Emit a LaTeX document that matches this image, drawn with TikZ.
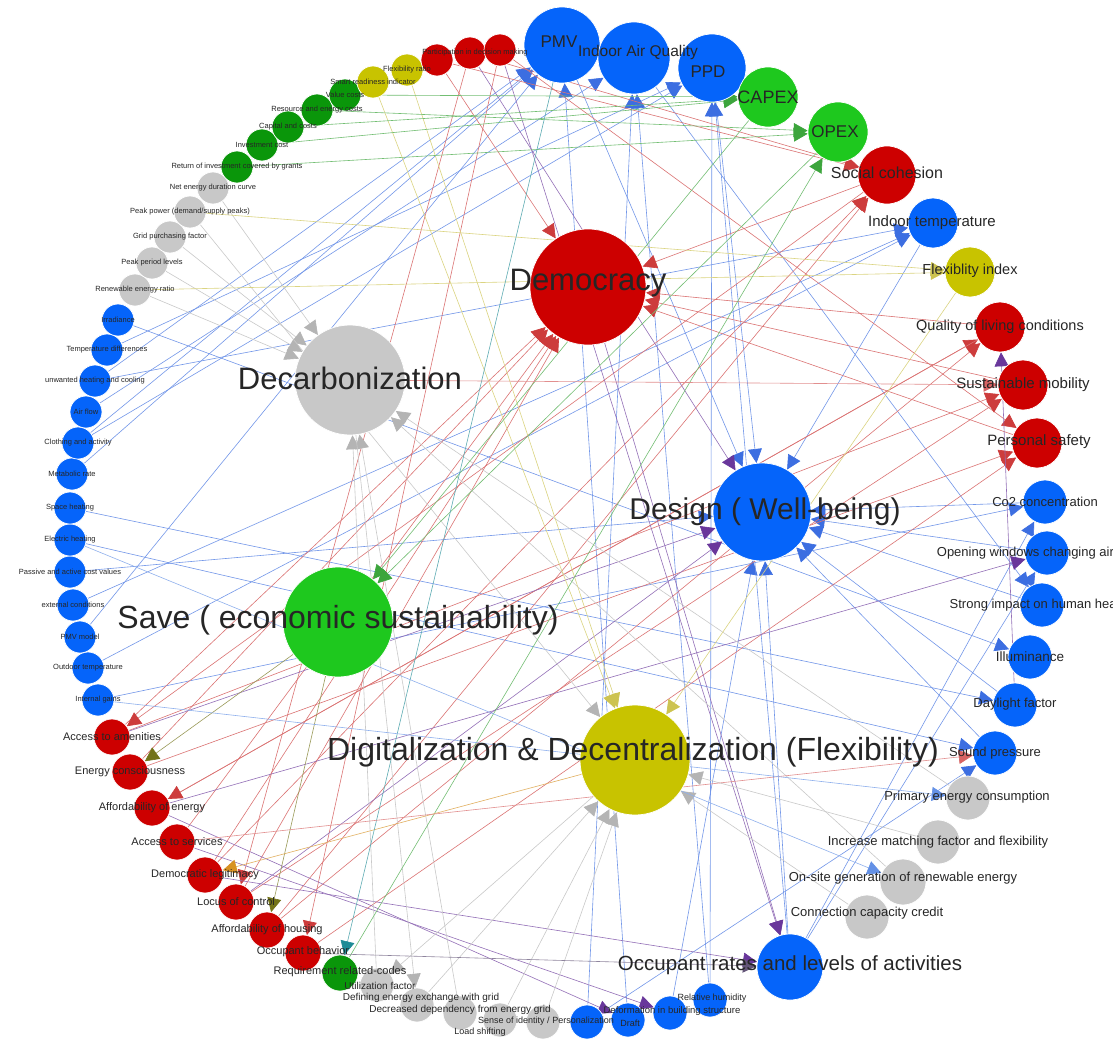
\documentclass[tikz,border=0pt]{standalone}
\usepackage{fontspec}
\setmainfont{Liberation Sans}
\usetikzlibrary{arrows.meta}
\pgfdeclarelayer{paper}
\pgfdeclarelayer{edges}
\pgfdeclarelayer{labels}
\pgfsetlayers{paper,edges,main,labels}

% node fills
\definecolor{nRed}{RGB}{205,0,0}
\definecolor{nBlue}{RGB}{5,100,250}
\definecolor{nGreen}{RGB}{30,200,30}
\definecolor{nDGreen}{RGB}{10,150,10}
\definecolor{nYel}{RGB}{200,195,0}
\definecolor{nGray}{RGB}{200,200,200}
% edge colours
\definecolor{eR}{RGB}{205,60,60}
\definecolor{eB}{RGB}{60,110,225}
\definecolor{eG}{RGB}{60,165,60}
\definecolor{eY}{RGB}{205,195,80}
\definecolor{eK}{RGB}{180,180,180}
\definecolor{eP}{RGB}{105,55,155}
\definecolor{eO}{RGB}{115,115,25}
\definecolor{eS}{RGB}{215,100,100}
\definecolor{eT}{RGB}{30,140,150}
\definecolor{eL}{RGB}{100,145,230}
\definecolor{eN}{RGB}{215,145,35}
\definecolor{eM}{RGB}{100,85,120}

\newcommand\lfs[1]{\fontsize{#1}{#1}\selectfont}

\tikzset{
  vtx/.style={circle, fill=#1, draw=white, line width=0.7pt, inner sep=0pt},
  lbl/.style={inner sep=0pt, text=black!85},
  edge/.style={draw=#1!72!white, line width=0.6pt,
    -{Triangle[length=14pt,width=14pt,color=#1]}},
}

\begin{document}
\begin{tikzpicture}[x=1pt,y=-1pt]
\useasboundingbox (0,0) rectangle (1113,1041);
\begin{pgfonlayer}{paper}
\fill[white] (0,0) rectangle (1113,1041);
\end{pgfonlayer}

% ---------- hubs ----------
\node[vtx=nRed,   minimum size=116pt] (dem) at (588,287) {};
\node[vtx=nGray,  minimum size=110pt] (dec) at (350,380) {};
\node[vtx=nBlue,  minimum size=98pt]  (des) at (762,512) {};
\node[vtx=nGreen, minimum size=110pt] (sav) at (338,622) {};
\node[vtx=nYel,   minimum size=110pt] (dig) at (635,760) {};
\node[vtx=nBlue,  minimum size=66pt]  (occ) at (790,967) {};

% ---------- ring: top and right ----------
\node[vtx=nBlue,  minimum size=76pt] (pmv)   at (562,45)  {};
\node[vtx=nBlue,  minimum size=72pt] (iaq)   at (634,58)  {};
\node[vtx=nBlue,  minimum size=68pt] (ppd)   at (712,68)  {};
\node[vtx=nGreen, minimum size=60pt] (capex) at (768,97)  {};
\node[vtx=nGreen, minimum size=60pt] (opex)  at (838,132) {};
\node[vtx=nRed,   minimum size=58pt] (soc)   at (887,175) {};
\node[vtx=nBlue,  minimum size=50pt] (itemp) at (933,223) {};
\node[vtx=nYel,   minimum size=50pt] (flex)  at (970,272) {};
\node[vtx=nRed,   minimum size=50pt] (qual)  at (1000,327) {};
\node[vtx=nRed,   minimum size=50pt] (smob)  at (1023,385) {};
\node[vtx=nRed,   minimum size=50pt] (psaf)  at (1037,443) {};
\node[vtx=nBlue,  minimum size=44pt] (co2)   at (1045,502) {};
\node[vtx=nBlue,  minimum size=44pt] (win)   at (1047,553) {};
\node[vtx=nBlue,  minimum size=44pt] (str)   at (1042,605) {};
\node[vtx=nBlue,  minimum size=44pt] (ilu)   at (1030,657) {};
\node[vtx=nBlue,  minimum size=44pt] (day)   at (1015,705) {};
\node[vtx=nBlue,  minimum size=44pt] (snd)   at (995,753)  {};
\node[vtx=nGray,  minimum size=44pt] (pec)   at (968,798)  {};
\node[vtx=nGray,  minimum size=44pt] (imf)   at (938,842)  {};
\node[vtx=nGray,  minimum size=46pt] (ons)   at (903,882)  {};
\node[vtx=nGray,  minimum size=44pt] (ccc)   at (867,917)  {};

% ---------- ring: bottom ----------
\node[vtx=nBlue,  minimum size=34pt] (bQ)  at (710,1000) {};
\node[vtx=nBlue,  minimum size=34pt] (bP)  at (670,1013) {};
\node[vtx=nBlue,  minimum size=34pt] (bO)  at (628,1020) {};
\node[vtx=nBlue,  minimum size=34pt] (bN)  at (587,1022) {};
\node[vtx=nGray,  minimum size=34pt] (grJ) at (543,1022) {};
\node[vtx=nGray,  minimum size=34pt] (grI) at (500,1020) {};
\node[vtx=nGray,  minimum size=34pt] (grH) at (460,1013) {};
\node[vtx=nGray,  minimum size=34pt] (grG) at (417,1005) {};
\node[vtx=nGray,  minimum size=34pt] (grF) at (377,985)  {};
\node[vtx=nDGreen,minimum size=36pt] (gF)  at (340,973)  {};
\node[vtx=nRed,   minimum size=36pt] (rK)  at (303,953)  {};
\node[vtx=nRed,   minimum size=36pt] (rJ)  at (267,930)  {};
\node[vtx=nRed,   minimum size=36pt] (rI)  at (236,902)  {};
\node[vtx=nRed,   minimum size=36pt] (rH)  at (205,875)  {};
\node[vtx=nRed,   minimum size=36pt] (rG)  at (177,842)  {};
\node[vtx=nRed,   minimum size=36pt] (rF)  at (152,808)  {};
\node[vtx=nRed,   minimum size=36pt] (rE)  at (130,772)  {};
\node[vtx=nRed,   minimum size=36pt] (rD)  at (112,737)  {};

% ---------- ring: left ----------
\node[vtx=nBlue, minimum size=32pt] (bM) at (98,700) {};
\node[vtx=nBlue, minimum size=32pt] (bL) at (88,668) {};
\node[vtx=nBlue, minimum size=32pt] (bK) at (80,637) {};
\node[vtx=nBlue, minimum size=32pt] (bJ) at (73,605) {};
\node[vtx=nBlue, minimum size=32pt] (bI) at (70,572) {};
\node[vtx=nBlue, minimum size=32pt] (bH) at (70,540) {};
\node[vtx=nBlue, minimum size=32pt] (bG) at (70,508) {};
\node[vtx=nBlue, minimum size=32pt] (bF) at (72,474) {};
\node[vtx=nBlue, minimum size=32pt] (bE) at (78,443) {};
\node[vtx=nBlue, minimum size=32pt] (bD) at (86,412) {};
\node[vtx=nBlue, minimum size=32pt] (bC) at (95,381) {};
\node[vtx=nBlue, minimum size=32pt] (bB) at (107,350) {};
\node[vtx=nBlue, minimum size=32pt] (bA) at (118,320) {};
\node[vtx=nGray, minimum size=32pt] (grE) at (135,290) {};
\node[vtx=nGray, minimum size=32pt] (grD) at (152,263) {};
\node[vtx=nGray, minimum size=32pt] (grC) at (170,237) {};
\node[vtx=nGray, minimum size=32pt] (grB) at (190,212) {};
\node[vtx=nGray, minimum size=32pt] (grA) at (213,188) {};
\node[vtx=nDGreen, minimum size=32pt] (gE) at (237,167) {};
\node[vtx=nDGreen, minimum size=32pt] (gD) at (262,145) {};
\node[vtx=nDGreen, minimum size=32pt] (gC) at (288,127) {};
\node[vtx=nDGreen, minimum size=32pt] (gB) at (317,110) {};
\node[vtx=nDGreen, minimum size=32pt] (gA) at (345,95)  {};
\node[vtx=nYel, minimum size=32pt] (yB) at (373,82) {};
\node[vtx=nYel, minimum size=32pt] (yA) at (407,70) {};
\node[vtx=nRed, minimum size=32pt] (rA) at (437,60) {};
\node[vtx=nRed, minimum size=32pt] (rB) at (470,53) {};
\node[vtx=nRed, minimum size=32pt] (rC) at (500,50) {};

% ---------- connectors ----------
\begin{pgfonlayer}{edges}
\foreach \s/\t in {bA/ilu, bB/ppd, bC/itemp, bD/iaq, bE/pmv, bF/pmv, bG/day,
  bH/snd, bI/des, bJ/itemp, bK/pmv, bL/itemp, bM/co2, pmv/des, iaq/str,
  ppd/des, itemp/des, co2/des, win/des, str/des, occ/des, bO/pmv, bQ/iaq,
  bP/des, bN/iaq, occ/co2, occ/win, occ/ppd, day/des, snd/des, bN/snd,
  bQ/ppd, bE/ppd, bC/pmv}
  \draw[edge=eB] (\s) -- (\t);
\foreach \s/\t in {rA/dem, rC/psaf, rB/rI, rD/dem, rE/dem, rG/dem, rH/soc,
  rI/smob, rJ/qual, rK/psaf, soc/dem, qual/dem, smob/dem, psaf/dem,
  rD/smob, rE/psaf, rF/qual, rH/dem, soc/rD, qual/rF, rA/soc, rB/soc,
  rJ/soc, rI/dem, rC/rK}
  \draw[edge=eR] (\s) -- (\t);
\foreach \s/\t in {rH/occ, dem/occ, rC/occ, rF/bO, rG/bP, rI/des, rB/des,
  day/qual, rF/win, rD/des}
  \draw[edge=eP] (\s) -- (\t);
\foreach \s/\t in {grE/dec, grD/dec, grC/dec, grB/dig, grA/dec, pec/dec,
  imf/dig, ons/dec, ccc/dig, grF/dec, grG/dig, grH/dec, grI/dig, grJ/dig,
  dig/grF, dec/grG}
  \draw[edge=eK] (\s) -- (\t);
\foreach \s/\t in {yA/dig, yB/dig, flex/dig, grE/flex, grB/flex}
  \draw[edge=eY] (\s) -- (\t);
\foreach \s/\t in {gE/opex, gD/capex, gC/capex, gB/opex, gA/capex,
  capex/sav, opex/sav, gF/opex}
  \draw[edge=eG] (\s) -- (\t);
\draw[edge=eO] (sav) -- (rE);
\draw[edge=eO] (sav) -- (rJ);
\draw[edge=eN] (dig) -- (rH);
\draw[edge=eT] (pmv) -- (gF);
\draw[edge=eS] (rG) -- (snd);
\draw[edge=eS] (dec) -- (smob);
\draw[edge=eL] (bM) -- (pec);
\draw[edge=eL] (bH) -- (ons);
\draw[edge=eM] (rK) -- (occ);
\end{pgfonlayer}

% ---------- labels ----------
\begin{pgfonlayer}{labels}
\node[lbl, font=\lfs{31}] (l-dem) at ([yshift=4pt]dem) {Democracy};
\node[lbl, font=\lfs{31}] (l-dec) at ([yshift=2pt]dec) {Decarbonization};
\node[lbl, font=\lfs{30}] (l-des) at ([xshift=3pt]des) {Design ( Well-being)};
\node[lbl, font=\lfs{32}] (l-sav) at ([yshift=2pt]sav) {Save ( economic sustainability)};
\node[lbl, font=\lfs{32}] (l-dig) at ([xshift=-2pt,yshift=8pt]dig) {Digitalization \& Decentralization (Flexibility)};
\node[lbl, font=\lfs{20.5}] (l-occ) at ([yshift=2pt]occ) {Occupant rates and levels of activities};

\node[lbl, font=\lfs{17}] (l-pmv) at ([xshift=-3pt,yshift=3pt]pmv) {PMV};
\node[lbl, font=\lfs{15.5}] (l-iaq) at ([xshift=4pt,yshift=6pt]iaq) {Indoor Air Quality};
\node[lbl, font=\lfs{17}] (l-ppd) at ([xshift=-4pt,yshift=-4pt]ppd) {PPD};
\node[lbl, font=\lfs{18}] (l-capex) at (capex) {CAPEX};
\node[lbl, font=\lfs{17}] (l-opex) at ([xshift=-3pt]opex) {OPEX};
\node[lbl, font=\lfs{16}] (l-soc) at ([yshift=2pt]soc) {Social cohesion};
\node[lbl, font=\lfs{15}] (l-itemp) at ([xshift=-1pt]itemp) {Indoor temperature};
\node[lbl, font=\lfs{14.5}] (l-flex) at ([yshift=1pt]flex) {Flexiblity index};
\node[lbl, font=\lfs{14.5}] (l-qual) at (qual) {Quality of living conditions};
\node[lbl, font=\lfs{15}] (l-smob) at (smob) {Sustainable mobility};
\node[lbl, font=\lfs{15}] (l-psaf) at ([xshift=2pt,yshift=1pt]psaf) {Personal safety};
\node[lbl, font=\lfs{13}] (l-co2) at (co2) {Co2 concentration};
\node[lbl, font=\lfs{13}] (l-win) at ([xshift=-1pt]win) {Opening windows changing air quality};
\node[lbl, font=\lfs{13}] (l-str) at ([xshift=-2pt]str) {Strong impact on human health};
\node[lbl, font=\lfs{13.5}] (l-ilu) at (ilu) {Illuminance};
\node[lbl, font=\lfs{13}] (l-day) at ([yshift=1pt]day) {Daylight factor};
\node[lbl, font=\lfs{13}] (l-snd) at (snd) {Sound pressure};
\node[lbl, font=\lfs{13}] (l-pec) at ([xshift=-1pt,yshift=1pt]pec) {Primary energy consumption};
\node[lbl, font=\lfs{13}] (l-imf) at (imf) {Increase matching factor and flexibility};
\node[lbl, font=\lfs{13}] (l-ons) at ([yshift=4pt]ons) {On-site generation of renewable energy};
\node[lbl, font=\lfs{13}] (l-ccc) at ([yshift=4pt]ccc) {Connection capacity credit};

\node[lbl, font=\lfs{9}] (l-bQ) at ([xshift=2pt,yshift=2pt]bQ) {Relative humidity};
\node[lbl, font=\lfs{9.5}] (l-bP) at ([xshift=2pt,yshift=2pt]bP) {Deformation in building structure};
\node[lbl, font=\lfs{9}] (l-bO) at ([xshift=2pt,yshift=-3pt]bO) {Draft};
\node[lbl, font=\lfs{9}] (l-grJ) at ([xshift=3pt,yshift=1pt]grJ) {Sense of identity / Personalization};
\node[lbl, font=\lfs{9}] (l-grI) at ([xshift=-20pt,yshift=-12pt]grI) {Load shifting};
\node[lbl, font=\lfs{10}] (l-grH) at ([yshift=3pt]grH) {Decreased dependency from energy grid};
\node[lbl, font=\lfs{10}] (l-grG) at ([xshift=4pt,yshift=7.5pt]grG) {Defining energy exchange with grid};
\node[lbl, font=\lfs{10}] (l-grF) at ([xshift=3pt,yshift=-1pt]grF) {Utilization factor};
\node[lbl, font=\lfs{11}] (l-gF) at ([yshift=1pt]gF) {Requirement related-codes};
\node[lbl, font=\lfs{11}] (l-rK) at ([yshift=1pt]rK) {Occupant behavior};
\node[lbl, font=\lfs{11}] (l-rJ) at (rJ) {Affordability of housing};
\node[lbl, font=\lfs{11}] (l-rI) at (rI) {Locus of control};
\node[lbl, font=\lfs{11}] (l-rH) at (rH) {Democratic legitimacy};
\node[lbl, font=\lfs{11}] (l-rG) at (rG) {Access to services};
\node[lbl, font=\lfs{11}] (l-rF) at (rF) {Affordability of energy};
\node[lbl, font=\lfs{11}] (l-rE) at (rE) {Energy consciousness};
\node[lbl, font=\lfs{11}] (l-rD) at (rD) {Access to amenities};

\node[lbl, font=\lfs{7.5}] (l-bM) at (bM) {Internal gains};
\node[lbl, font=\lfs{7.5}] (l-bL) at (bL) {Outdoor temperature};
\node[lbl, font=\lfs{7.5}] (l-bK) at (bK) {PMV model};
\node[lbl, font=\lfs{7.5}] (l-bJ) at (bJ) {external conditions};
\node[lbl, font=\lfs{7.5}] (l-bI) at (bI) {Passive and active cost values};
\node[lbl, font=\lfs{7.5}] (l-bH) at (bH) {Electric heating};
\node[lbl, font=\lfs{7.5}] (l-bG) at (bG) {Space heating};
\node[lbl, font=\lfs{7.5}] (l-bF) at (bF) {Metabolic rate};
\node[lbl, font=\lfs{7.5}] (l-bE) at (bE) {Clothing and activity};
\node[lbl, font=\lfs{7.5}] (l-bD) at (bD) {Air flow};
\node[lbl, font=\lfs{7.5}] (l-bC) at (bC) {unwanted heating and cooling};
\node[lbl, font=\lfs{7.5}] (l-bB) at (bB) {Temperature differences};
\node[lbl, font=\lfs{7.5}] (l-bA) at (bA) {Irradiance};
\node[lbl, font=\lfs{7.5}] (l-grE) at (grE) {Renewable energy ratio};
\node[lbl, font=\lfs{7.5}] (l-grD) at (grD) {Peak period levels};
\node[lbl, font=\lfs{7.5}] (l-grC) at (grC) {Grid purchasing factor};
\node[lbl, font=\lfs{7.5}] (l-grB) at (grB) {Peak power (demand/supply peaks)};
\node[lbl, font=\lfs{7.5}] (l-grA) at (grA) {Net energy duration curve};
\node[lbl, font=\lfs{7.5}] (l-gE) at (gE) {Return of investment covered by grants};
\node[lbl, font=\lfs{7.5}] (l-gD) at (gD) {Investment cost};
\node[lbl, font=\lfs{7.5}] (l-gC) at (gC) {Capital and costs};
\node[lbl, font=\lfs{7.5}] (l-gB) at (gB) {Resource and energy costs};
\node[lbl, font=\lfs{7.5}] (l-gA) at (gA) {Value costs};
\node[lbl, font=\lfs{7.5}] (l-yB) at (yB) {Smart readiness indicator};
\node[lbl, font=\lfs{7.5}] (l-yA) at (yA) {Flexibility ratio};
\node[lbl, font=\lfs{7.5}] (l-rB) at ([xshift=5pt]rB) {Participation in decision making};
\end{pgfonlayer}
\end{tikzpicture}
\end{document}
